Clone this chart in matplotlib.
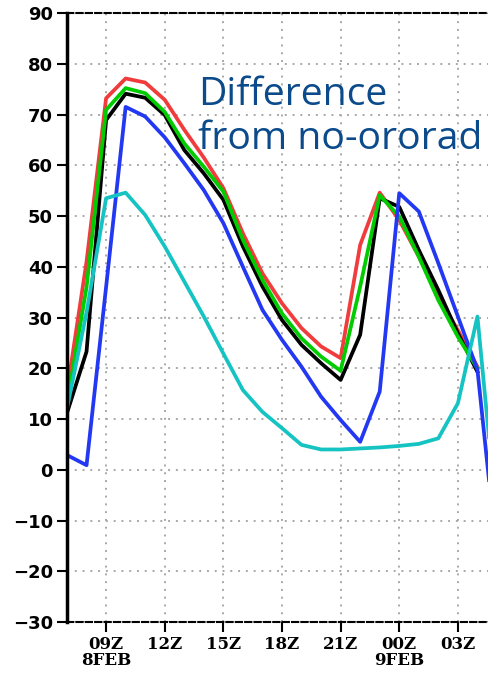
import numpy as np
import matplotlib.pyplot as plt

# hours since 00Z 8FEB
hours = np.arange(7, 30)
hours_short = np.arange(7, 29)

red = [15.4, 41.0, 73.2, 77.1, 76.3, 72.9, 67.0, 61.5, 55.5, 46.6, 38.7, 32.8,
       27.9, 24.3, 22.0, 44.3, 54.6, 49.2, 42.0, 34.1, 27.5, 20.3]
green = [13.0, 36.0, 70.9, 75.2, 74.2, 70.5, 64.3, 59.7, 54.8, 45.3, 37.4, 30.8,
         25.9, 22.3, 19.5, 36.1, 54.1, 49.9, 42.0, 33.4, 26.2, 20.0]
black = [11.2, 23.3, 68.9, 74.1, 73.3, 69.9, 63.0, 58.4, 53.2, 44.0, 36.1, 29.5,
         24.6, 21.0, 17.7, 26.6, 53.5, 51.8, 43.3, 35.4, 26.9, 19.3]
blue = [2.9, 0.9, 36.0, 71.5, 69.6, 65.5, 60.4, 55.1, 48.6, 40.0, 31.5, 25.6,
        20.3, 14.4, 9.8, 5.5, 15.4, 54.5, 50.9, 40.7, 30.2, 19.7, -17.0]
cyan = [12.1, 31.0, 53.5, 54.6, 50.2, 44.0, 37.1, 30.2, 22.9, 15.7, 11.4, 8.2,
        4.9, 4.0, 4.0, 4.2, 4.4, 4.7, 5.1, 6.2, 13.1, 30.2, -10.0]

xticks = [9, 12, 15, 18, 21, 24, 27]
xlabels = ['09Z\n8FEB', '12Z', '15Z', '18Z', '21Z', '00Z\n9FEB', '03Z']
yticks = np.arange(-30, 91, 10)

fig = plt.figure(figsize=(4.88, 6.77), dpi=100)
# axes runs past the right edge of the figure
ax = fig.add_axes([0.1373, 0.0812, 0.8811, 0.8996])

lw = 2.7
ax.plot(hours_short, red, color='#f03c3c', lw=lw)
ax.plot(hours_short, black, color='black', lw=lw)
ax.plot(hours_short, green, color='#00cc00', lw=lw)
ax.plot(hours, blue, color='#2238f2', lw=lw)
ax.plot(hours, cyan, color='#15c3c3', lw=lw)

ax.set_xlim(7, 29)
ax.set_ylim(-30, 90)
ax.set_xticks(xticks)
ax.set_xticklabels(xlabels, fontfamily='DejaVu Serif', fontweight='bold',
                   fontsize=12, linespacing=0.95)
ax.set_yticks(yticks)
ax.set_yticklabels([f'{v}'.replace('-', '\u2212') for v in yticks],
                   fontfamily='DejaVu Sans', fontweight='bold', fontsize=13)
ax.tick_params(axis='both', direction='out', length=7, width=1.5, pad=3)

ax.grid(True, color='#a8a8a8', linestyle=(0, (1, 3)), lw=1.4)

ax.spines['left'].set_linewidth(2.5)
for s in ['top', 'bottom']:
    ax.spines[s].set_linestyle((0, (3, 1.5)))
    ax.spines[s].set_linewidth(1.5)
ax.spines['right'].set_visible(False)

ax.text(0.305, 0.897, 'Difference\nfrom no-ororad', transform=ax.transAxes,
        color='#0b4a8b', fontsize=28.2, fontfamily='Open Sans',
        va='top', ha='left', linespacing=1.2)

plt.savefig('out.png', dpi=100)
